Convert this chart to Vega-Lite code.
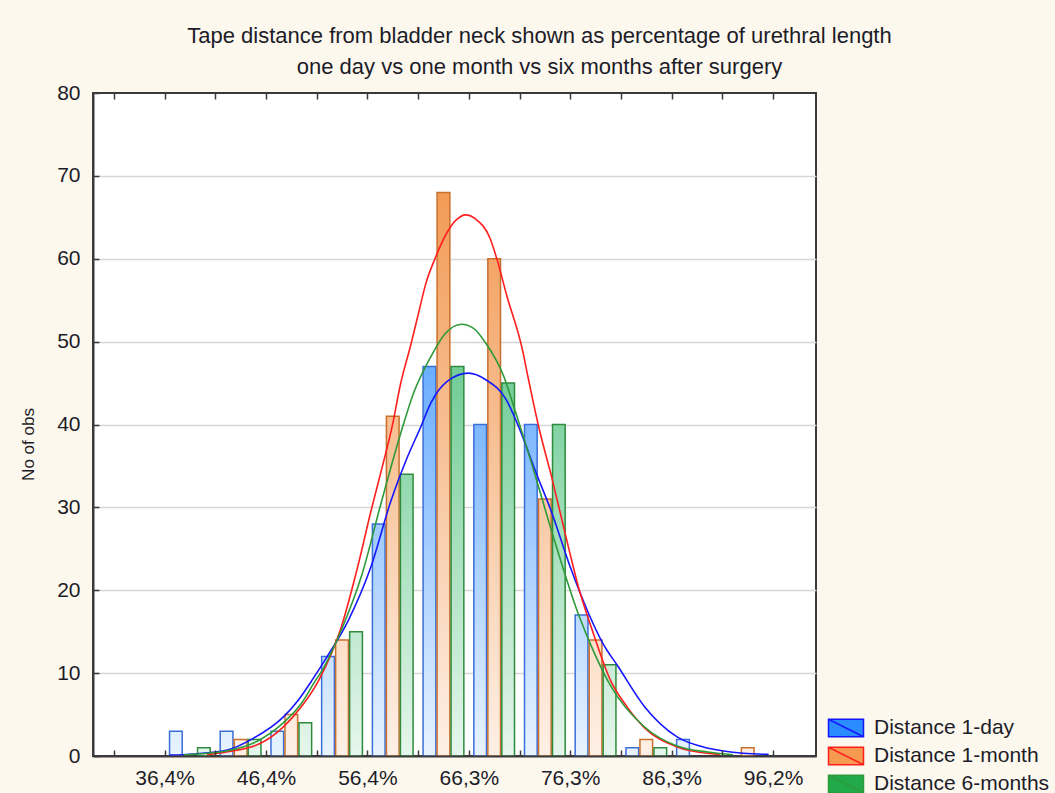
{
  "$schema": "https://vega.github.io/schema/vega-lite/v6.json",
  "width": 723,
  "height": 663,
  "autosize": {"type": "none"},
  "padding": {"left": 93, "top": 93, "right": 239, "bottom": 37},
  "background": "#fdf8ee",
  "config": {
    "view": {"stroke": "#3a3a3a", "strokeWidth": 2, "fill": "#ffffff"},
    "font": "Liberation Sans",
    "axis": {
      "labelFont": "Liberation Sans",
      "labelFontSize": 21,
      "labelColor": "#1c1c28",
      "titleFont": "Liberation Sans",
      "titleFontWeight": "normal",
      "titleColor": "#1c1c28",
      "domainColor": "#3a3a3a",
      "domainWidth": 2,
      "tickColor": "#3a3a3a",
      "tickWidth": 1.5
    }
  },
  "title": {
    "text": ["Tape distance from bladder neck shown as percentage of urethral length", "one day vs one month vs six months after surgery"],
    "fontSize": 22,
    "font": "Liberation Sans",
    "fontWeight": "normal",
    "color": "#1c1c28",
    "anchor": "middle",
    "dx": 85,
    "offset": 3,
    "lineHeight": 31
  },
  "resolve": {"axis": {"x": "independent"}},
  "datasets": {
    "bars": [
      {"bin_start": 36.42, "bin_end": 41.40, "series": "Distance 1-day", "count": 3},
      {"bin_start": 36.42, "bin_end": 41.40, "series": "Distance 6-months", "count": 1},
      {"bin_start": 41.40, "bin_end": 46.39, "series": "Distance 1-day", "count": 3},
      {"bin_start": 41.40, "bin_end": 46.39, "series": "Distance 1-month", "count": 2},
      {"bin_start": 41.40, "bin_end": 46.39, "series": "Distance 6-months", "count": 2},
      {"bin_start": 46.39, "bin_end": 51.37, "series": "Distance 1-day", "count": 3},
      {"bin_start": 46.39, "bin_end": 51.37, "series": "Distance 1-month", "count": 5},
      {"bin_start": 46.39, "bin_end": 51.37, "series": "Distance 6-months", "count": 4},
      {"bin_start": 51.37, "bin_end": 56.36, "series": "Distance 1-day", "count": 12},
      {"bin_start": 51.37, "bin_end": 56.36, "series": "Distance 1-month", "count": 14},
      {"bin_start": 51.37, "bin_end": 56.36, "series": "Distance 6-months", "count": 15},
      {"bin_start": 56.36, "bin_end": 61.34, "series": "Distance 1-day", "count": 28},
      {"bin_start": 56.36, "bin_end": 61.34, "series": "Distance 1-month", "count": 41},
      {"bin_start": 56.36, "bin_end": 61.34, "series": "Distance 6-months", "count": 34},
      {"bin_start": 61.34, "bin_end": 66.33, "series": "Distance 1-day", "count": 47},
      {"bin_start": 61.34, "bin_end": 66.33, "series": "Distance 1-month", "count": 68},
      {"bin_start": 61.34, "bin_end": 66.33, "series": "Distance 6-months", "count": 47},
      {"bin_start": 66.33, "bin_end": 71.31, "series": "Distance 1-day", "count": 40},
      {"bin_start": 66.33, "bin_end": 71.31, "series": "Distance 1-month", "count": 60},
      {"bin_start": 66.33, "bin_end": 71.31, "series": "Distance 6-months", "count": 45},
      {"bin_start": 71.31, "bin_end": 76.29, "series": "Distance 1-day", "count": 40},
      {"bin_start": 71.31, "bin_end": 76.29, "series": "Distance 1-month", "count": 31},
      {"bin_start": 71.31, "bin_end": 76.29, "series": "Distance 6-months", "count": 40},
      {"bin_start": 76.29, "bin_end": 81.28, "series": "Distance 1-day", "count": 17},
      {"bin_start": 76.29, "bin_end": 81.28, "series": "Distance 1-month", "count": 14},
      {"bin_start": 76.29, "bin_end": 81.28, "series": "Distance 6-months", "count": 11},
      {"bin_start": 81.28, "bin_end": 86.26, "series": "Distance 1-day", "count": 1},
      {"bin_start": 81.28, "bin_end": 86.26, "series": "Distance 1-month", "count": 2},
      {"bin_start": 81.28, "bin_end": 86.26, "series": "Distance 6-months", "count": 1},
      {"bin_start": 86.26, "bin_end": 91.25, "series": "Distance 1-day", "count": 2},
      {"bin_start": 91.25, "bin_end": 96.23, "series": "Distance 1-month", "count": 1}
    ],
    "curves": [
      {"series": "Distance 1-day", "x": 36.9, "y": 0.1},
      {"series": "Distance 1-day", "x": 39.3, "y": 0.25},
      {"series": "Distance 1-day", "x": 42.5, "y": 0.7},
      {"series": "Distance 1-day", "x": 45.1, "y": 2.1},
      {"series": "Distance 1-day", "x": 48.0, "y": 4.6},
      {"series": "Distance 1-day", "x": 49.6, "y": 6.8},
      {"series": "Distance 1-day", "x": 51.0, "y": 9.3},
      {"series": "Distance 1-day", "x": 52.2, "y": 11.6},
      {"series": "Distance 1-day", "x": 54.5, "y": 16.4},
      {"series": "Distance 1-day", "x": 56.7, "y": 22.8},
      {"series": "Distance 1-day", "x": 58.7, "y": 30.9},
      {"series": "Distance 1-day", "x": 60.2, "y": 35.8},
      {"series": "Distance 1-day", "x": 61.6, "y": 39.7},
      {"series": "Distance 1-day", "x": 62.6, "y": 42.6},
      {"series": "Distance 1-day", "x": 64.2, "y": 45.2},
      {"series": "Distance 1-day", "x": 66.3, "y": 46.2},
      {"series": "Distance 1-day", "x": 68.0, "y": 45.4},
      {"series": "Distance 1-day", "x": 70.0, "y": 43.0},
      {"series": "Distance 1-day", "x": 71.3, "y": 39.5},
      {"series": "Distance 1-day", "x": 72.9, "y": 34.3},
      {"series": "Distance 1-day", "x": 74.5, "y": 29.3},
      {"series": "Distance 1-day", "x": 76.3, "y": 22.8},
      {"series": "Distance 1-day", "x": 78.1, "y": 17.2},
      {"series": "Distance 1-day", "x": 79.5, "y": 13.6},
      {"series": "Distance 1-day", "x": 81.0, "y": 10.8},
      {"series": "Distance 1-day", "x": 83.6, "y": 5.95},
      {"series": "Distance 1-day", "x": 86.8, "y": 2.3},
      {"series": "Distance 1-day", "x": 90.0, "y": 0.9},
      {"series": "Distance 1-day", "x": 93.3, "y": 0.33},
      {"series": "Distance 1-day", "x": 95.8, "y": 0.2},
      {"series": "Distance 1-month", "x": 40.6, "y": 0.15},
      {"series": "Distance 1-month", "x": 42.5, "y": 0.5},
      {"series": "Distance 1-month", "x": 45.8, "y": 1.5},
      {"series": "Distance 1-month", "x": 48.0, "y": 3.4},
      {"series": "Distance 1-month", "x": 49.9, "y": 6.0},
      {"series": "Distance 1-month", "x": 51.6, "y": 9.2},
      {"series": "Distance 1-month", "x": 53.8, "y": 15.6},
      {"series": "Distance 1-month", "x": 55.4, "y": 22.8},
      {"series": "Distance 1-month", "x": 56.7, "y": 29.5},
      {"series": "Distance 1-month", "x": 57.8, "y": 34.8},
      {"series": "Distance 1-month", "x": 58.8, "y": 39.8},
      {"series": "Distance 1-month", "x": 59.6, "y": 44.8},
      {"series": "Distance 1-month", "x": 60.6, "y": 49.5},
      {"series": "Distance 1-month", "x": 61.3, "y": 53.0},
      {"series": "Distance 1-month", "x": 62.1, "y": 57.0},
      {"series": "Distance 1-month", "x": 63.0, "y": 60.0},
      {"series": "Distance 1-month", "x": 64.2, "y": 63.2},
      {"series": "Distance 1-month", "x": 65.2, "y": 64.8},
      {"series": "Distance 1-month", "x": 66.0, "y": 65.3},
      {"series": "Distance 1-month", "x": 67.0, "y": 64.8},
      {"series": "Distance 1-month", "x": 68.4, "y": 62.5},
      {"series": "Distance 1-month", "x": 69.2, "y": 59.5},
      {"series": "Distance 1-month", "x": 70.0, "y": 55.8},
      {"series": "Distance 1-month", "x": 71.6, "y": 49.0},
      {"series": "Distance 1-month", "x": 72.2, "y": 45.4},
      {"series": "Distance 1-month", "x": 73.2, "y": 39.7},
      {"series": "Distance 1-month", "x": 74.5, "y": 33.5},
      {"series": "Distance 1-month", "x": 76.1, "y": 25.3},
      {"series": "Distance 1-month", "x": 77.1, "y": 20.4},
      {"series": "Distance 1-month", "x": 78.4, "y": 15.4},
      {"series": "Distance 1-month", "x": 80.3, "y": 9.0},
      {"series": "Distance 1-month", "x": 81.9, "y": 5.9},
      {"series": "Distance 1-month", "x": 83.6, "y": 3.4},
      {"series": "Distance 1-month", "x": 86.8, "y": 1.1},
      {"series": "Distance 1-month", "x": 90.0, "y": 0.3},
      {"series": "Distance 1-month", "x": 91.0, "y": 0.2},
      {"series": "Distance 6-months", "x": 38.3, "y": 0.1},
      {"series": "Distance 6-months", "x": 39.3, "y": 0.2},
      {"series": "Distance 6-months", "x": 42.5, "y": 0.6},
      {"series": "Distance 6-months", "x": 45.4, "y": 1.7},
      {"series": "Distance 6-months", "x": 48.0, "y": 3.9},
      {"series": "Distance 6-months", "x": 49.9, "y": 6.4},
      {"series": "Distance 6-months", "x": 51.2, "y": 9.0},
      {"series": "Distance 6-months", "x": 51.9, "y": 10.3},
      {"series": "Distance 6-months", "x": 53.8, "y": 15.2},
      {"series": "Distance 6-months", "x": 55.8, "y": 21.8},
      {"series": "Distance 6-months", "x": 57.7, "y": 30.5},
      {"series": "Distance 6-months", "x": 59.6, "y": 38.8},
      {"series": "Distance 6-months", "x": 60.9, "y": 43.8},
      {"series": "Distance 6-months", "x": 62.6, "y": 48.2},
      {"series": "Distance 6-months", "x": 63.9, "y": 50.8},
      {"series": "Distance 6-months", "x": 65.6, "y": 52.1},
      {"series": "Distance 6-months", "x": 66.8, "y": 51.6},
      {"series": "Distance 6-months", "x": 68.0, "y": 49.8},
      {"series": "Distance 6-months", "x": 69.7, "y": 46.0},
      {"series": "Distance 6-months", "x": 71.0, "y": 41.2},
      {"series": "Distance 6-months", "x": 72.5, "y": 35.3},
      {"series": "Distance 6-months", "x": 74.5, "y": 27.0},
      {"series": "Distance 6-months", "x": 77.1, "y": 17.1},
      {"series": "Distance 6-months", "x": 78.6, "y": 12.6},
      {"series": "Distance 6-months", "x": 80.3, "y": 8.4},
      {"series": "Distance 6-months", "x": 83.6, "y": 3.5},
      {"series": "Distance 6-months", "x": 86.8, "y": 1.2},
      {"series": "Distance 6-months", "x": 90.0, "y": 0.45},
      {"series": "Distance 6-months", "x": 92.3, "y": 0.15}
    ]
  },
  "layer": [
    {
      "data": {"name": "bars"},
      "mark": {
        "type": "bar",
        "orient": "vertical",
        "fill": {"expr": "{gradient: 'linear', x1: 0, y1: 1, x2: 0, y2: 0, stops: [{offset: 0, color: datum.series == 'Distance 1-day' ? 'rgb(232,243,255)' : datum.series == 'Distance 1-month' ? 'rgb(254,240,230)' : 'rgb(230,246,236)'}, {offset: 1, color: datum.series == 'Distance 1-day' ? 'rgb(' + round(232 - 212 * datum.count / 80) + ',' + round(243 - 118 * datum.count / 80) + ',255)' : datum.series == 'Distance 1-month' ? 'rgb(' + round(254 - 14 * datum.count / 80) + ',' + round(240 - 100 * datum.count / 80) + ',' + round(230 - 170 * datum.count / 80) + ')' : 'rgb(' + round(230 - 200 * datum.count / 80) + ',' + round(246 - 71 * datum.count / 80) + ',' + round(236 - 146 * datum.count / 80) + ')'}]}"},
        "stroke": {"expr": "datum.series == 'Distance 1-day' ? '#3a6ed8' : datum.series == 'Distance 1-month' ? '#c9702c' : '#2e8b3d'"},
        "strokeWidth": 1.5,
        "xOffset": {"expr": "datum.series == 'Distance 1-day' ? 5 : datum.series == 'Distance 1-month' ? 19 : 33"},
        "x2Offset": {"expr": "datum.series == 'Distance 1-day' ? -33 : datum.series == 'Distance 1-month' ? -19 : -5"}
      },
      "encoding": {
        "x": {
          "field": "bin_start",
          "type": "quantitative",
          "scale": {"domain": [29.88, 99.96], "nice": false, "zero": false},
          "axis": {
            "orient": "bottom",
            "title": null,
            "grid": false,
            "values": [31.44, 36.42, 41.40, 46.39, 51.37, 56.36, 61.34, 66.33, 71.31, 76.29, 81.28, 86.26, 91.25, 96.23],
            "labelExpr": "indexof([36.42, 46.39, 56.36, 66.33, 76.29, 86.26, 96.23], datum.value) >= 0 ? replace(format(datum.value, '.1f'), '.', ',') + '%' : ''",
            "tickSize": -6,
            "labelPadding": 17,
            "labelFlush": false,
            "labelOverlap": false,
            "zindex": 1
          }
        },
        "x2": {"field": "bin_end"},
        "y": {
          "field": "count",
          "type": "quantitative",
          "stack": null,
          "scale": {"domain": [0, 80], "nice": false},
          "axis": {
            "title": "No of obs",
            "titleFontSize": 17,
            "titleX": -56,
            "titleY": 351,
            "values": [0, 10, 20, 30, 40, 50, 60, 70, 80],
            "grid": true,
            "gridColor": {"condition": {"test": "datum.value == 0 || datum.value == 80", "value": "transparent"}, "value": "#d6d6d6"},
            "gridWidth": 1.5,
            "tickSize": -6,
            "labelPadding": 19
          }
        }
      }
    },
    {
      "data": {"name": "curves"},
      "mark": {"type": "line", "interpolate": "monotone", "strokeWidth": 1.6},
      "encoding": {
        "x": {
          "field": "x",
          "type": "quantitative",
          "scale": {"domain": [29.88, 99.96], "nice": false, "zero": false},
          "axis": {
            "orient": "top",
            "title": null,
            "labels": false,
            "domain": false,
            "grid": false,
            "tickSize": -6,
            "values": [31.44, 36.42, 41.40, 46.39, 51.37, 56.36, 61.34, 66.33, 71.31, 76.29, 81.28, 86.26, 91.25, 96.23]
          }
        },
        "y": {
          "field": "y",
          "type": "quantitative",
          "scale": {"domain": [0, 80], "nice": false},
          "axis": {
            "title": "No of obs",
            "titleFontSize": 17,
            "titleX": -56,
            "titleY": 351,
            "values": [0, 10, 20, 30, 40, 50, 60, 70, 80],
            "grid": true,
            "gridColor": {"condition": {"test": "datum.value == 0 || datum.value == 80", "value": "transparent"}, "value": "#d6d6d6"},
            "gridWidth": 1.5,
            "tickSize": -6,
            "labelPadding": 19
          }
        },
        "color": {
          "field": "series",
          "type": "nominal",
          "scale": {"domain": ["Distance 1-day", "Distance 1-month", "Distance 6-months"], "range": ["#1717ff", "#ff1f1f", "#2e9a3a"]},
          "legend": {
            "title": null,
            "orient": "none",
            "legendX": 742,
            "legendY": 624,
            "padding": 0,
            "symbolType": "M-1.75,-0.875H1.75V0.875H-1.75Z M-1.75,-0.875L1.75,0.875",
            "symbolSize": 400,
            "symbolStrokeWidth": 1.5,
            "labelFont": "Liberation Sans",
            "labelFontSize": 21,
            "labelColor": "#1c1c28",
            "labelOffset": 17,
            "labelLimit": 400,
            "rowPadding": 4,
            "encode": {
              "symbols": {
                "update": {
                  "fill": {"signal": "datum.value == 'Distance 1-day' ? '#2a8cff' : datum.value == 'Distance 1-month' ? '#f59a50' : '#22aa4a'"},
                  "fillOpacity": {"value": 1},
                  "opacity": {"value": 1}
                }
              }
            }
          }
        }
      }
    }
  ]
}
